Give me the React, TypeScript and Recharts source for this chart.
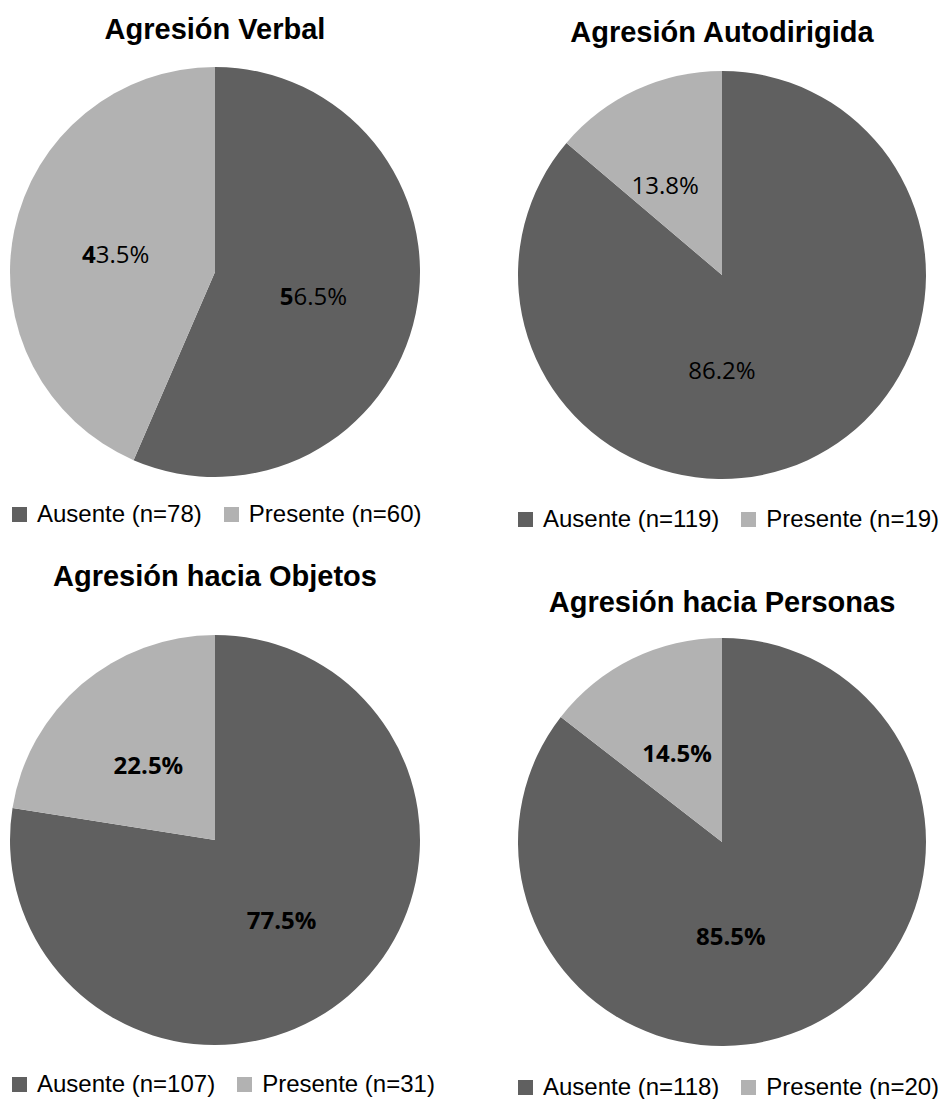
import { PieChart, Pie, Cell, Legend } from "recharts";

const titles = [
  "Agresión Verbal",
  "Agresión Autodirigida",
  "Agresión hacia Objetos",
  "Agresión hacia Personas",
];
const categories = ["Ausente", "Presente"];
const ausenteN = [78, 119, 107, 118];
const presenteN = [60, 19, 31, 20];
const ausentePct = [56.5, 86.2, 77.5, 85.5];
const presentePct = [43.5, 13.8, 22.5, 14.5];
// how each panel's percentage labels are weighted
const labelWeights = ["first", "normal", "bold", "bold"];

const COLORS = ["#606060", "#b2b2b2"];
const RADIAN = Math.PI / 180;
const NARROW = '"Liberation Sans Narrow", "Arial Narrow", "Liberation Sans", sans-serif';

// panel boxes and pie geometry, relative to each panel;
// labelDx nudges the [Ausente, Presente] labels sideways (best-fit placement)
const panels = [
  { left: 0, top: 0, titleY: 39, cx: 215, cy: 272, r: 205, legendX: 12, legendY: 500, labelDx: [-2, 1] },
  { left: 470, top: 0, titleY: 42, cx: 252, cy: 275, r: 204, legendX: 48, legendY: 505, labelDx: [-43, -14] },
  { left: 0, top: 545, titleY: 41, cx: 215, cy: 295, r: 205, legendX: 12, legendY: 525, labelDx: [0, 0] },
  { left: 470, top: 545, titleY: 67, cx: 252, cy: 297, r: 204, legendX: 48, legendY: 528, labelDx: [-36, 0] },
];

function makeLabel(weight: string, dx: number[]) {
  return (props: any) => {
    const { cx, cy, midAngle, outerRadius, value, index } = props;
    const rr = outerRadius * 0.5;
    const x = cx + rr * Math.cos(-midAngle * RADIAN) + (dx[index] ?? 0);
    const y = cy + rr * Math.sin(-midAngle * RADIAN) + 2;
    const text = `${Number(value).toFixed(1)}%`;
    return (
      <text
        x={x}
        y={y}
        textAnchor="middle"
        dominantBaseline="central"
        fill="#000"
        fontSize={24}
        fontFamily='"Open Sans", sans-serif'
        fontWeight={weight === "bold" ? "bold" : "normal"}
      >
        {weight === "first" ? (
          <>
            <tspan fontWeight="bold">{text[0]}</tspan>
            <tspan>{text.slice(1)}</tspan>
          </>
        ) : (
          text
        )}
      </text>
    );
  };
}

function LegendRow({ items }: { items: { name: string; color: string }[] }) {
  return (
    <div style={{ display: "flex", alignItems: "center", fontFamily: NARROW, fontSize: 24, color: "#000", whiteSpace: "nowrap" }}>
      {items.map((it, i) => (
        <div key={i} style={{ display: "flex", alignItems: "center", marginRight: 22 }}>
          <span style={{ width: 15, height: 15, background: it.color, display: "inline-block", marginRight: 10 }} />
          <span>{it.name}</span>
        </div>
      ))}
    </div>
  );
}

function AggressionPie({ idx }: { idx: number }) {
  const p = panels[idx];
  const data = [
    { name: categories[0], n: ausenteN[idx], value: ausentePct[idx] },
    { name: categories[1], n: presenteN[idx], value: presentePct[idx] },
  ];
  const items = data.map((d, i) => ({ name: `${d.name} (n=${d.n})`, color: COLORS[i] }));
  return (
    <div style={{ position: "absolute", left: p.left, top: p.top, width: 470, height: 554 }}>
      <PieChart width={470} height={554} margin={{ top: 0, right: 0, bottom: 0, left: 0 }}>
        <text
          x={p.cx}
          y={p.titleY}
          textAnchor="middle"
          fontFamily={NARROW}
          fontWeight="bold"
          fontSize={29}
          fill="#000"
        >
          {titles[idx]}
        </text>
        <Pie
          data={data}
          dataKey="value"
          nameKey="name"
          cx={p.cx}
          cy={p.cy}
          outerRadius={p.r}
          startAngle={90}
          endAngle={-270}
          stroke="none"
          labelLine={false}
          label={makeLabel(labelWeights[idx], p.labelDx)}
          isAnimationActive={false}
        >
          {data.map((_, i) => (
            <Cell key={i} fill={COLORS[i]} />
          ))}
        </Pie>
        <Legend
          content={() => <LegendRow items={items} />}
          wrapperStyle={{ position: "absolute", left: p.legendX, top: p.legendY, width: "auto" }}
        />
      </PieChart>
    </div>
  );
}

export default function App() {
  return (
    <div style={{ position: "absolute", left: 0, top: 0, width: 940, height: 1099, background: "#fff" }}>
      {titles.map((_, i) => (
        <AggressionPie key={i} idx={i} />
      ))}
    </div>
  );
}
